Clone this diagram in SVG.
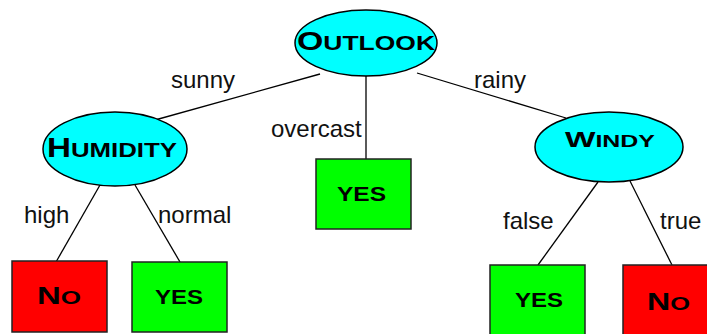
<svg xmlns="http://www.w3.org/2000/svg" width="707" height="334" viewBox="0 0 707 334">
<style>
.ell{fill:#00FFFF;stroke:#000;stroke-width:1.5}
.yes{fill:#00FF00;stroke:#222;stroke-width:1.5}
.no{fill:#FF0000;stroke:#222;stroke-width:1.5}
.edge{stroke:#000;stroke-width:1.3;fill:none}
.lbl{font-family:"Liberation Sans",Arial,sans-serif;font-size:24px;fill:#111}
.nt{font-family:"Liberation Sans",Arial,sans-serif;font-weight:bold;fill:#000;text-anchor:middle}
</style>
<rect width="707" height="334" fill="#fff"/>
<g id="connectors">
<line class="edge" x1="320" y1="74" x2="155" y2="120"/>
<line class="edge" x1="417" y1="73" x2="566" y2="118"/>
<line class="edge" x1="366" y1="76" x2="366" y2="159"/>
<line class="edge" x1="100" y1="185" x2="56" y2="262"/>
<line class="edge" x1="135" y1="185" x2="180" y2="262"/>
<line class="edge" x1="598" y1="182" x2="538" y2="265"/>
<line class="edge" x1="630" y1="181" x2="672" y2="265"/>
<text class="lbl" x="171" y="88">sunny</text>
<text class="lbl" x="474" y="88">rainy</text>
<text class="lbl" x="271" y="137">overcast</text>
<text class="lbl" x="24" y="223">high</text>
<text class="lbl" x="158" y="223">normal</text>
<text class="lbl" x="503" y="229">false</text>
<text class="lbl" x="660" y="229">true</text>
</g>
<g id="outlook">
<ellipse class="ell" cx="366" cy="43" rx="71" ry="33"/>
<text class="nt" x="366" y="50" textLength="138" lengthAdjust="spacingAndGlyphs"><tspan font-size="25">O</tspan><tspan font-size="19.5">UTLOOK</tspan></text>
</g>
<g id="humidity">
<ellipse class="ell" cx="115" cy="149" rx="72" ry="37"/>
<text class="nt" x="112" y="157" textLength="130" lengthAdjust="spacingAndGlyphs"><tspan font-size="27">H</tspan><tspan font-size="21">UMIDITY</tspan></text>
</g>
<g id="windy">
<ellipse class="ell" cx="609" cy="147" rx="74" ry="35"/>
<text class="nt" x="610" y="147" textLength="90" lengthAdjust="spacingAndGlyphs"><tspan font-size="22">W</tspan><tspan font-size="17">INDY</tspan></text>
</g>
<g id="no-high">
<rect class="no" x="12" y="261" width="95" height="71"/>
<text class="nt" x="59" y="304" textLength="44" lengthAdjust="spacingAndGlyphs"><tspan font-size="24">N</tspan><tspan font-size="19">O</tspan></text>
</g>
<g id="yes-normal">
<rect class="yes" x="132" y="262" width="95" height="70"/>
<text class="nt" x="179" y="304" font-size="19.5" textLength="48" lengthAdjust="spacingAndGlyphs">YES</text>
</g>
<g id="yes-overcast">
<rect class="yes" x="316" y="159" width="95" height="70"/>
<text class="nt" x="361.5" y="201" font-size="19.5" textLength="49" lengthAdjust="spacingAndGlyphs">YES</text>
</g>
<g id="yes-false">
<rect class="yes" x="490" y="265" width="95" height="72"/>
<text class="nt" x="539" y="307" font-size="19.5" textLength="48" lengthAdjust="spacingAndGlyphs">YES</text>
</g>
<g id="no-true">
<rect class="no" x="623" y="265" width="95" height="72"/>
<text class="nt" x="668.5" y="310" textLength="43" lengthAdjust="spacingAndGlyphs"><tspan font-size="24">N</tspan><tspan font-size="19">O</tspan></text>
</g>
</svg>
